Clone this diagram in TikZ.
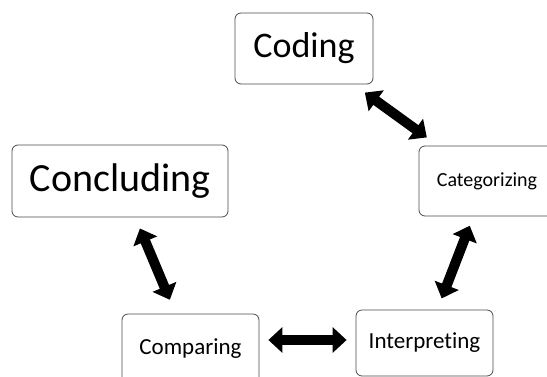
\documentclass[tikz,border=0pt]{standalone}
\usepackage{fontspec}
\setmainfont[Ligatures=NoCommon]{Carlito}
\usetikzlibrary{arrows.meta}

\tikzstyle{stage} = [draw=black!70, rounded corners=6pt, line width=0.8pt, fill=white, inner sep=0pt, text=black]
\tikzstyle{link} = [draw, line width=10pt, {Triangle[width=25pt,length=14pt]}-{Triangle[width=25pt,length=14pt]}]

\begin{document}
\begin{tikzpicture}[x=1pt, y=-1pt]

	\clip (0,0) rectangle (547,376);

	% Stages
	\node at (304,48.5) [stage, minimum width=138pt, minimum height=71pt] (coding) {\fontsize{36}{40}\selectfont Coding};
	\node at (487,181) [stage, minimum width=136pt, minimum height=70pt] (categ) {\fontsize{20}{24}\selectfont Categorizing};
	\node at (424.5,343) [stage, minimum width=137pt, minimum height=66pt] (interp) {\fontsize{23}{27}\selectfont Interpreting};
	\node at (190.5,349) [stage, minimum width=137pt, minimum height=70pt] (compar) {\fontsize{23}{27}\selectfont Comparing};
	\node at (120,181) [stage, minimum width=216pt, minimum height=72pt] (concl) {\fontsize{40}{44}\selectfont Concluding};

	% Arrows
	\path[link, shorten <=14pt, shorten >=14pt] (coding) -- (categ);
	\path[link, shorten <=10pt, shorten >=12pt] (categ) -- (interp);
	\path[link, shorten <=9pt, shorten >=9pt] ([yshift=9pt]compar.east) -- ([yshift=3pt]interp.west);
	\path[link, shorten <=12pt, shorten >=15pt] (concl) -- (compar);

\end{tikzpicture}
\end{document}
